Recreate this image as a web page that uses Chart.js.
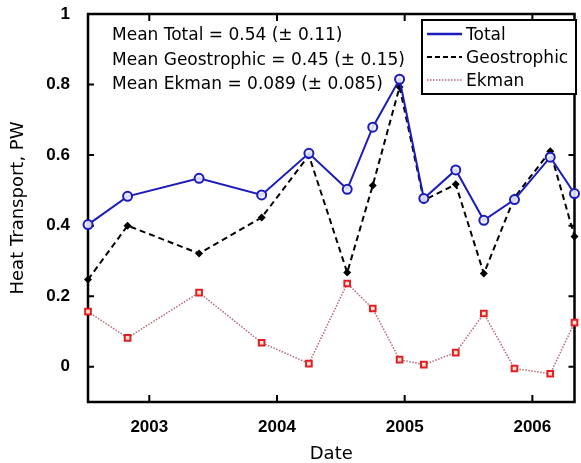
<!DOCTYPE html>
<html>
<head>
<meta charset="utf-8">
<script src="https://cdn.jsdelivr.net/npm/chart.js@4/dist/chart.umd.min.js"></script>
<style>
  html, body { margin: 0; padding: 0; background: #fff; }
  #wrap { width: 581px; height: 463px; }
</style>
</head>
<body>
<div id="wrap"><canvas id="heatChart" width="581" height="463"></canvas></div>
<script>
// decimal years of each survey
const dates = [2002.52, 2002.83, 2003.39, 2003.88, 2004.25, 2004.55, 2004.75, 2004.96, 2005.15, 2005.40, 2005.62, 2005.86, 2006.14, 2006.33];
const total = [0.403, 0.483, 0.534, 0.487, 0.605, 0.503, 0.679, 0.815, 0.477, 0.558, 0.415, 0.474, 0.594, 0.491];
const geostrophic = [0.247, 0.400, 0.321, 0.423, 0.599, 0.267, 0.514, 0.793, 0.472, 0.517, 0.264, 0.480, 0.611, 0.369];
const ekman = [0.156, 0.082, 0.210, 0.068, 0.009, 0.236, 0.165, 0.020, 0.006, 0.040, 0.151, -0.005, -0.020, 0.125];

const yearTicks = [2003, 2004, 2005, 2006];
const yTicks = [0, 0.2, 0.4, 0.6, 0.8, 1];
const yTickLabels = ['0', '0.2', '0.4', '0.6', '0.8', '1'];
const meanLines = [
  'Mean Total = 0.54 (\u00b1 0.11)',
  'Mean Geostrophic = 0.45 (\u00b1 0.15)',
  'Mean Ekman = 0.089 (\u00b1 0.085)'
];

const BLUE = 'rgb(28,28,190)';
const PINK = 'rgb(180,105,115)';
const textFont = '17px "DejaVu Sans", sans-serif';
const tickFont = 'bold 17px "Liberation Sans", Arial, sans-serif';

const toXY = (vals) => vals.map((v, i) => ({ x: dates[i], y: v }));

// frame with inward ticks, y tick labels, the mean texts and the boxed legend
const framePlugin = {
  id: 'frame',
  beforeDatasetsDraw(chart) {
    const { ctx, chartArea: a, scales: { x, y } } = chart;
    ctx.save();
    ctx.strokeStyle = '#000';
    ctx.lineWidth = 2.5;
    ctx.strokeRect(a.left, a.top, a.right - a.left, a.bottom - a.top);
    ctx.lineWidth = 2;
    ctx.beginPath();
    yearTicks.forEach(t => {
      const px = x.getPixelForValue(t);
      ctx.moveTo(px, a.bottom); ctx.lineTo(px, a.bottom - 7);
      ctx.moveTo(px, a.top); ctx.lineTo(px, a.top + 7);
    });
    yTicks.forEach(t => {
      const py = y.getPixelForValue(t);
      ctx.moveTo(a.left, py); ctx.lineTo(a.left + 6, py);
      ctx.moveTo(a.right, py); ctx.lineTo(a.right - 6, py);
    });
    ctx.stroke();

    ctx.fillStyle = '#000';
    ctx.font = tickFont;
    ctx.textAlign = 'right';
    ctx.textBaseline = 'middle';
    yTicks.forEach((t, i) => ctx.fillText(yTickLabels[i], a.left - 18, y.getPixelForValue(t)));
    ctx.restore();
  },
  afterDraw(chart) {
    const { ctx, chartArea: a } = chart;
    ctx.save();
    ctx.fillStyle = '#000';
    ctx.font = textFont;
    ctx.textBaseline = 'alphabetic';
    ctx.textAlign = 'left';
    meanLines.forEach((s, i) => ctx.fillText(s, a.left + 24, a.top + 26 + i * 24.5));

    // legend box
    const bx = 422, by = 20, bw = 154, bh = 74;
    ctx.fillStyle = '#fff';
    ctx.fillRect(bx, by, bw, bh);
    ctx.strokeStyle = '#000';
    ctx.lineWidth = 2;
    ctx.strokeRect(bx, by, bw, bh);
    const items = [
      { label: 'Total', color: BLUE, dash: [], width: 2.5 },
      { label: 'Geostrophic', color: '#000', dash: [5, 3], width: 2 },
      { label: 'Ekman', color: PINK, dash: [1.5, 1.5], width: 1.5 }
    ];
    items.forEach((it, i) => {
      const base = by + 20 + i * 23;
      ctx.beginPath();
      ctx.strokeStyle = it.color;
      ctx.lineWidth = it.width;
      ctx.setLineDash(it.dash);
      ctx.moveTo(bx + 5, base - 6);
      ctx.lineTo(bx + 40, base - 6);
      ctx.stroke();
      ctx.setLineDash([]);
      ctx.fillStyle = '#000';
      ctx.fillText(it.label, bx + 44, base);
    });
    ctx.restore();
  }
};

new Chart(document.getElementById('heatChart'), {
  type: 'line',
  data: {
    datasets: [
      {
        label: 'Total',
        data: toXY(total),
        borderColor: BLUE,
        borderWidth: 2,
        pointStyle: 'circle',
        pointRadius: 4.5,
        pointBorderWidth: 2,
        pointBorderColor: BLUE,
        pointBackgroundColor: 'rgba(235,235,255,0.9)',
        clip: false
      },
      {
        label: 'Geostrophic',
        data: toXY(geostrophic),
        borderColor: '#000',
        borderWidth: 2,
        borderDash: [6, 4],
        pointStyle: 'rectRot',
        pointRadius: 4,
        pointBorderWidth: 0,
        pointBackgroundColor: '#000',
        clip: false
      },
      {
        label: 'Ekman',
        data: toXY(ekman),
        borderColor: PINK,
        borderWidth: 1.5,
        borderDash: [1.5, 1.5],
        pointStyle: 'rect',
        pointRadius: 4,
        pointBorderWidth: 2,
        pointBorderColor: 'rgb(225,30,40)',
        pointBackgroundColor: 'rgb(255,230,200)',
        clip: false
      }
    ]
  },
  options: {
    responsive: false,
    animation: false,
    layout: { padding: { top: 14, right: 2, left: 0, bottom: 0 } },
    plugins: {
      legend: { display: false },
      tooltip: { enabled: false }
    },
    scales: {
      x: {
        type: 'linear',
        min: 2002.52,
        max: 2006.33,
        afterBuildTicks: (s) => { s.ticks = yearTicks.map(v => ({ value: v })); },
        afterFit: (s) => { s.height = 61; },
        grid: { display: false, drawTicks: false },
        border: { display: false },
        ticks: {
          color: '#000',
          padding: 15,
          font: { size: 17, weight: 'bold', family: '"Liberation Sans", Arial, sans-serif' },
          callback: (v) => String(v)
        },
        title: {
          display: true,
          text: 'Date',
          color: '#000',
          padding: 0,
          font: { size: 18, family: '"DejaVu Sans", sans-serif', lineHeight: 1 }
        }
      },
      y: {
        min: -0.1,
        max: 1,
        afterBuildTicks: (s) => { s.ticks = yTicks.map(v => ({ value: v })); },
        afterFit: (s) => { s.width = 88; },
        grid: { display: false, drawTicks: false },
        border: { display: false },
        ticks: { display: false },
        title: {
          display: true,
          text: 'Heat Transport, PW',
          color: '#000',
          padding: { top: 9, bottom: 0 },
          font: { size: 18, family: '"DejaVu Sans", sans-serif', lineHeight: 1 }
        }
      }
    }
  },
  plugins: [framePlugin]
});
</script>
</body>
</html>
